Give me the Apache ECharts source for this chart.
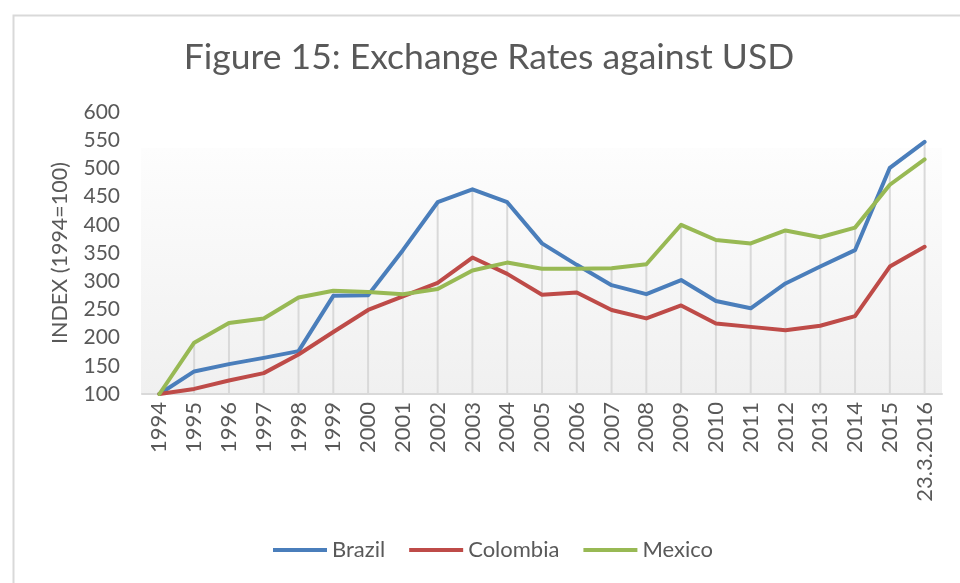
<!DOCTYPE html>
<html>
<head>
<meta charset="utf-8">
<script src="https://cdn.jsdelivr.net/npm/echarts@6/dist/echarts.min.js"></script>
<style>
html,body{margin:0;padding:0;background:#fff;}
#chart{width:960px;height:583px;}
</style>
</head>
<body>
<div id="chart"></div>
<script>
const categories = ['1994','1995','1996','1997','1998','1999','2000','2001','2002','2003','2004','2005','2006','2007','2008','2009','2010','2011','2012','2013','2014','2015','23.3.2016'];
const brazil   = [100,140,153,164,176,274,275,355,440,463,440,367,329,293,277,302,265,252,296,326,355,501,547];
const colombia = [100,109,124,137,170,210,249,273,297,342,313,276,280,249,234,257,225,219,213,221,238,326,361];
const mexico   = [100,191,226,234,271,283,281,277,286,319,333,322,322,323,330,400,373,367,390,378,395,471,516];
const yTicks = {min:100, max:600, interval:50};

const dropLines = categories.map((c,i)=>Math.max(brazil[i],colombia[i],mexico[i]));
const FONT = 'Lato';
const TXT = '#595959';

const chart = echarts.init(document.getElementById('chart'), null, {renderer:'canvas'});
chart.setOption({
  backgroundColor:'#fff',
  animation:false,
  title:{
    text:'Figure 15: Exchange Rates against USD',
    left:484, top:35, textAlign:'center',
    textStyle:{fontFamily:FONT, fontSize:35.5, fontWeight:'normal', color:TXT}
  },
  graphic:[
    {type:'rect', left:11, top:13, shape:{width:980, height:620}, style:{fill:null, stroke:'#d9d9d9', lineWidth:2}, z:-10},
    {type:'rect', left:141, top:148, shape:{width:801, height:246},
     style:{fill:new echarts.graphic.LinearGradient(0,0,0,1,[{offset:0,color:'#fdfdfd'},{offset:1,color:'#f0f0f0'}])}, z:-5}
  ],
  legend:{
    bottom:17, left:268,
    data:['Brazil','Colombia','Mexico'],
    icon:'rect', itemWidth:54, itemHeight:4, itemGap:24,
    textStyle:{fontFamily:FONT, fontSize:22, color:TXT, padding:[0,0,0,0]}
  },
  grid:{left:142, right:18, top:112, bottom:189, containLabel:false},
  xAxis:{
    type:'category', data:categories, boundaryGap:true,
    axisLine:{show:true, lineStyle:{color:'#d9d9d9', width:2}},
    axisTick:{show:false},
    axisLabel:{rotate:90, interval:0, margin:8, fontFamily:FONT, fontSize:22, color:TXT},
    splitLine:{show:false}
  },
  yAxis:{
    type:'value', min:yTicks.min, max:yTicks.max, interval:yTicks.interval,
    name:'INDEX (1994=100)', nameLocation:'middle', nameGap:71,
    nameTextStyle:{fontFamily:FONT, fontSize:21.5, color:TXT},
    axisLine:{show:false}, axisTick:{show:false},
    axisLabel:{margin:22, fontFamily:FONT, fontSize:21, color:TXT},
    splitLine:{show:false}
  },
  series:[
    {name:'drop', type:'bar', data:dropLines, barWidth:2, silent:true, z:1,
     itemStyle:{color:'#d9d9d9'}, legendHoverLink:false, tooltip:{show:false}},
    {name:'Brazil', type:'line', data:brazil, symbol:'none', z:3,
     lineStyle:{color:'#4a7ebb', width:4, cap:'round', join:'round'}, itemStyle:{color:'#4a7ebb'}},
    {name:'Colombia', type:'line', data:colombia, symbol:'none', z:3,
     lineStyle:{color:'#be4b48', width:4, cap:'round', join:'round'}, itemStyle:{color:'#be4b48'}},
    {name:'Mexico', type:'line', data:mexico, symbol:'none', z:4,
     lineStyle:{color:'#98b954', width:4, cap:'round', join:'round'}, itemStyle:{color:'#98b954'}}
  ]
});
</script>
</body>
</html>
